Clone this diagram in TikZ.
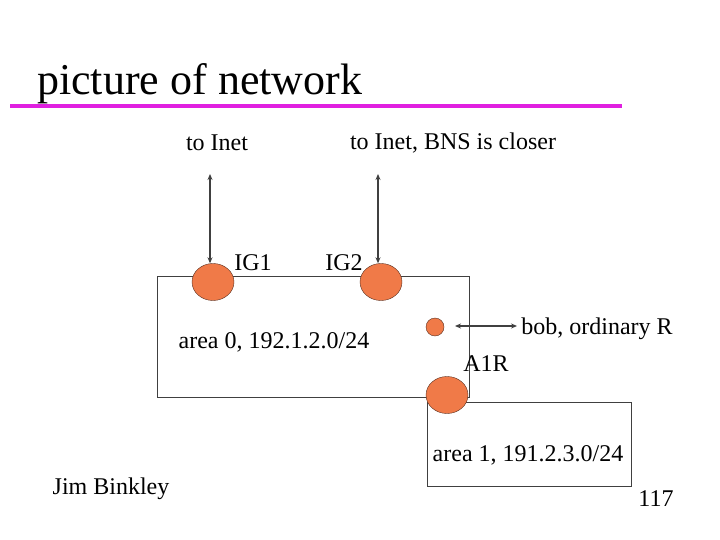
\documentclass[tikz,border=0pt]{standalone}
\usepackage{fontspec}
\setmainfont{Liberation Serif}
\usetikzlibrary{shapes.geometric,arrows.meta}
\definecolor{router}{HTML}{F07A48}
\definecolor{rimline}{HTML}{5A3020}
\definecolor{barcol}{HTML}{E020E0}
\begin{document}
\begin{tikzpicture}[x=1pt,y=-1pt,
  router/.style={ellipse,draw=rimline,fill=router,inner sep=0pt},
  lbl/.style={font=\fontsize{24}{26}\selectfont,inner sep=0pt},
  link/.style={draw=black!75,line width=1.5pt,{Stealth[length=6pt,width=5pt]}-{Stealth[length=6pt,width=5pt]}},
  area/.style={draw=black!75}]
  \useasboundingbox (0,0) rectangle (720,540);
  % title
  \node[anchor=base west,inner sep=0pt,font=\fontsize{44}{48}\selectfont] (title) at (37,95) {picture of network};
  \fill[barcol] (10,104) rectangle (622,108);
  % areas
  \draw[area] (157,276) rectangle (469,397);
  \draw[area] (427,402) rectangle (631,486);
  % routers
  \node[router,minimum width=42,minimum height=37] (IG1) at (213,282) {};
  \node[router,minimum width=42,minimum height=37] (IG2) at (381,282) {};
  \node[router,minimum width=18,minimum height=18] (bob) at (435,327) {};
  \node[router,minimum width=42,minimum height=37] (A1R) at (447,395) {};
  % labels
  \node[lbl] (inet1) at (217,143) {to Inet};
  \node[lbl] (inet2) at (453,143) {to Inet, BNS is closer};
  \node[lbl] (ig1l) at (253,263) {IG1};
  \node[lbl] (ig2l) at (344,263) {IG2};
  \node[lbl] (a0) at (274,342) {area 0, 192.1.2.0/24};
  \node[lbl] (bobl) at (597,329) {bob, ordinary R};
  \node[lbl] (a1rl) at (486,364) {A1R};
  \node[lbl] (a1) at (528,455) {area 1, 191.2.3.0/24};
  \node[lbl] (author) at (111,489) {Jim Binkley};
  \node[lbl] (page) at (656,499) {117};
  % connectors
  \coordinate (t1) at (210,174);
  \coordinate (t2) at (378,174);
  \coordinate (b1) at (517,326);
  \draw[link] (t1) -- (t1 |- IG1.north);
  \draw[link] (t2) -- (t2 |- IG2.north);
  \draw[link] (b1) -- (455,326);
\end{tikzpicture}
\end{document}
